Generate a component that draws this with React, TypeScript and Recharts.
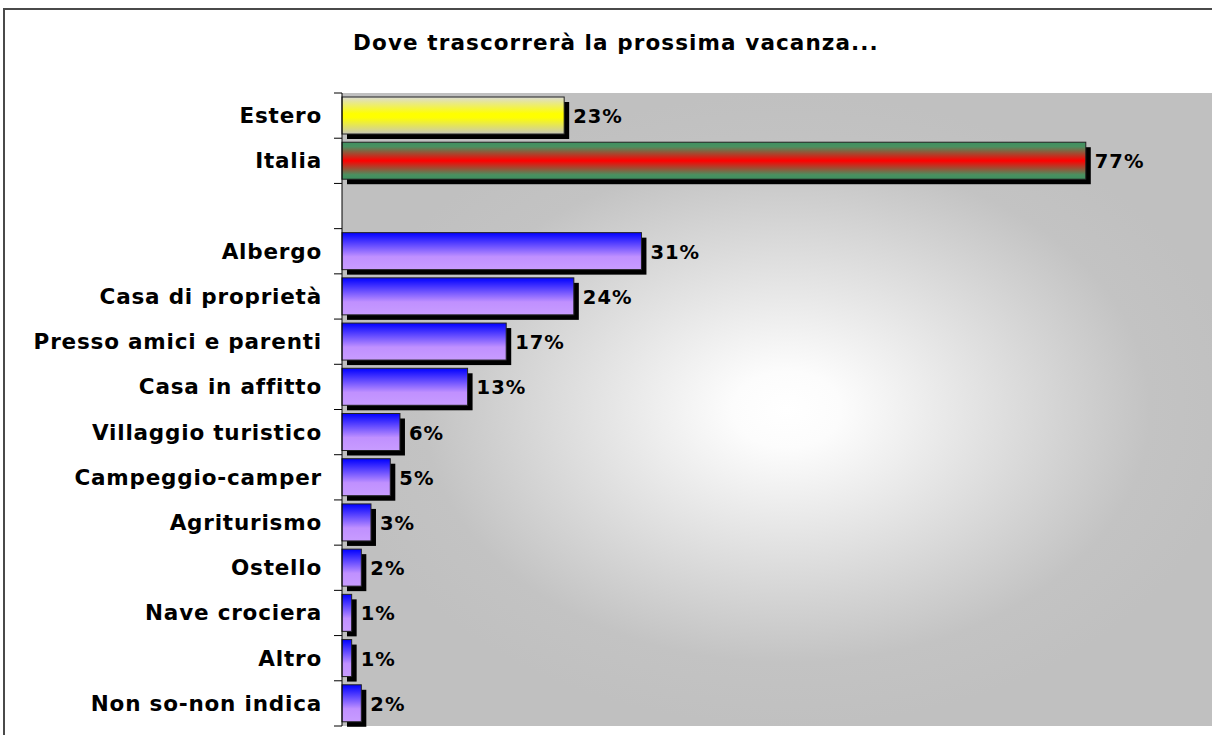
import { BarChart, Bar, XAxis, YAxis, CartesianGrid, Cell, LabelList } from 'recharts';

const categories = [
  'Estero',
  'Italia',
  ' ',
  'Albergo',
  'Casa di proprietà',
  'Presso amici e parenti',
  'Casa in affitto',
  'Villaggio turistico',
  'Campeggio-camper',
  'Agriturismo',
  'Ostello',
  'Nave crociera',
  'Altro',
  'Non so-non indica',
];
const shares: (number | null)[] = [23, 77, null, 31, 24, 17, 13, 6, 5, 3, 2, 1, 1, 2];
const fills = [
  'url(#gradYellow)',
  'url(#gradItaly)',
  'none',
  ...Array(11).fill('url(#gradBlue)'),
];

const data = categories.map((name, i) => ({ name, value: shares[i] }));

const FONT = "'DejaVu Sans', Verdana, sans-serif";
const TICK_SIZE = 8;
const TICK_MARGIN = 12;

if (typeof document !== 'undefined') {
  document.documentElement.style.overflow = 'hidden';
  document.body.style.overflow = 'hidden';
}

function ShadowBar(props: any) {
  const { x, y, width, height, fill } = props;
  if (!width || width <= 0) return null;
  return (
    <g>
      <rect x={x + 5} y={y + 5} width={width} height={height} fill="#000" />
      <rect x={x} y={y} width={width} height={height} fill={fill} stroke="#222" strokeWidth={1} />
    </g>
  );
}

function CategoryTick(props: any) {
  const { x, y, payload, index, visibleTicksCount } = props;
  const half = payload && payload.offset ? payload.offset : 22.6;
  const x1 = x + TICK_MARGIN;
  const x2 = x1 + TICK_SIZE;
  return (
    <g>
      <line x1={x1} x2={x2} y1={y - half} y2={y - half} stroke="#000" />
      {index === visibleTicksCount - 1 && (
        <line x1={x1} x2={x2} y1={y + half} y2={y + half} stroke="#000" />
      )}
      <text
        x={x}
        y={y}
        textAnchor="end"
        dominantBaseline="central"
        fontFamily={FONT}
        fontWeight="bold"
        fontSize={21.5}
        letterSpacing={0.8}
        fill="#000"
      >
        {payload.value}
      </text>
    </g>
  );
}

function ValueLabel(props: any) {
  const { x, y, width, height, value } = props;
  if (value == null) return null;
  return (
    <text
      x={x + width + 9}
      y={y + height / 2 + 1}
      dominantBaseline="central"
      fontFamily={FONT}
      fontWeight="bold"
      fontSize={19.5}
      letterSpacing={1}
      fill="#000"
    >
      {value}%
    </text>
  );
}

export default function App() {
  return (
    <div
      style={{
        position: 'fixed',
        left: 0,
        top: 0,
        right: 0,
        bottom: 0,
        overflow: 'hidden',
        background: '#fff',
      }}
    >
      <div
        style={{
          position: 'absolute',
          left: 3,
          top: 8,
          width: 1300,
          height: 800,
          border: '2px solid #4a4a4a',
        }}
      />
      <div
        style={{
          position: 'absolute',
          left: 0,
          top: 31,
          width: 1232,
          textAlign: 'center',
          lineHeight: '24px',
          fontFamily: FONT,
          fontWeight: 'bold',
          fontSize: 21.5,
          letterSpacing: 1.1,
          color: '#000',
        }}
      >
        Dove trascorrerà la prossima vacanza...
      </div>
      <div style={{ position: 'absolute', left: 0, top: 0 }}>
        <BarChart
          width={1250}
          height={735}
          data={data}
          layout="vertical"
          margin={{ top: 93, right: 0, bottom: 9, left: 0 }}
          barCategoryGap={4}
        >
          <defs>
            <radialGradient id="plotBg" cx="0.49" cy="0.5" r="0.5">
              <stop offset="0" stopColor="#ffffff" />
              <stop offset="0.12" stopColor="#fcfcfc" />
              <stop offset="0.8" stopColor="#c3c3c3" />
              <stop offset="1" stopColor="#c0c0c0" />
            </radialGradient>
            <linearGradient id="gradYellow" x1="0" y1="0" x2="0" y2="1">
              <stop offset="0" stopColor="#dcdcd4" />
              <stop offset="0.45" stopColor="#ffff00" />
              <stop offset="0.55" stopColor="#ffff00" />
              <stop offset="1" stopColor="#c8c8b8" />
            </linearGradient>
            <linearGradient id="gradItaly" x1="0" y1="0" x2="0" y2="1">
              <stop offset="0" stopColor="#3f9060" />
              <stop offset="0.12" stopColor="#4a9060" />
              <stop offset="0.5" stopColor="#ff0000" />
              <stop offset="0.88" stopColor="#4a9060" />
              <stop offset="1" stopColor="#3f9060" />
            </linearGradient>
            <linearGradient id="gradBlue" x1="0" y1="0" x2="0" y2="1">
              <stop offset="0" stopColor="#0000ff" />
              <stop offset="0.65" stopColor="#c090ff" />
              <stop offset="1" stopColor="#c89cff" />
            </linearGradient>
          </defs>
          <CartesianGrid horizontal={false} vertical={false} fill="url(#plotBg)" />
          <XAxis
            type="number"
            domain={[0, 94]}
            orientation="top"
            height={0}
            tick={false}
            tickLine={false}
            axisLine={{ stroke: '#888', strokeWidth: 2 }}
          />
          <XAxis
            xAxisId="bottom"
            type="number"
            domain={[0, 94]}
            orientation="bottom"
            height={0}
            tick={false}
            tickLine={false}
            axisLine={{ stroke: '#888', strokeWidth: 2 }}
          />
          <YAxis
            type="category"
            dataKey="name"
            width={342}
            interval={0}
            tickSize={TICK_SIZE}
            tickMargin={TICK_MARGIN}
            tickLine={false}
            axisLine={{ stroke: '#000', strokeWidth: 1 }}
            tick={<CategoryTick />}
          />
          <Bar dataKey="value" isAnimationActive={false} shape={<ShadowBar />}>
            {data.map((_, i) => (
              <Cell key={`cell-${i}`} fill={fills[i]} />
            ))}
            <LabelList dataKey="value" content={<ValueLabel />} />
          </Bar>
        </BarChart>
      </div>
    </div>
  );
}
